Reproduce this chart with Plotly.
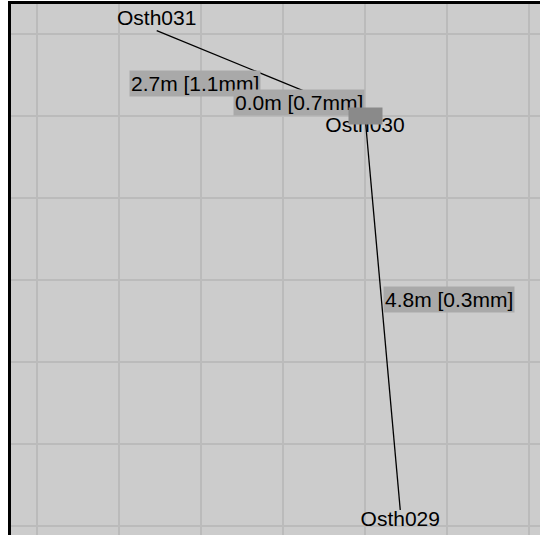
import plotly.graph_objects as go

# station coordinates (metres, local grid)
names = ["Osth031", "Osth030", "Osth029"]
east = [1.46, 4.00, 4.43]
north = [6.04, 5.00, 0.195]

# survey legs: from, to, label
leg_from = [0, 1, 1]
leg_to = [1, 1, 2]
leg_text = ["2.7m [1.1mm]", "0.0m [0.7mm]", "4.8m [0.3mm]"]

# label placement around the leg midpoint
leg_anchor = [("right", "top", 3), ("right", "bottom", 0), ("left", "bottom", 0)]
name_pos = ["top center", "bottom center", "bottom center"]

FONT = "Liberation Sans, Arial, sans-serif"

fig = go.Figure()

for a, b in zip(leg_from, leg_to):
    fig.add_trace(go.Scatter(x=[east[a], east[b]], y=[north[a], north[b]],
                             mode="lines", line=dict(color="black", width=1.3),
                             hoverinfo="skip", showlegend=False))

fig.add_trace(go.Scatter(x=east, y=north, mode="text", text=names,
                         textposition=name_pos,
                         textfont=dict(family=FONT, size=21, color="black"),
                         showlegend=False))

for (a, b), txt, (xa, ya, ys) in zip(zip(leg_from, leg_to), leg_text, leg_anchor):
    fig.add_annotation(x=(east[a] + east[b]) / 2, y=(north[a] + north[b]) / 2,
                       text=txt, showarrow=False, xanchor=xa, yanchor=ya, yshift=ys,
                       bgcolor="#a9a9a9", borderpad=1,
                       font=dict(family=FONT, size=21, color="black"))

# current station marker
fig.add_annotation(x=east[1], y=north[1], text="", showarrow=False,
                   width=33, height=16, bgcolor="#8a8a8a", borderpad=0,
                   xanchor="center", yanchor="middle")

fig.update_layout(
    width=540, height=535,
    margin=dict(l=11, r=0, t=4, b=0),
    paper_bgcolor="white", plot_bgcolor="#cccccc",
    xaxis=dict(range=[-26 / 82, -26 / 82 + 529 / 82], side="top", dtick=1, tick0=0,
               showgrid=True, gridcolor="#bbbbbb", gridwidth=2, zeroline=False,
               showticklabels=False, ticks="", showline=True, linecolor="black",
               linewidth=3),
    yaxis=dict(range=[6 + 30 / 82 - 531 / 82, 6 + 30 / 82], dtick=1, tick0=0,
               showgrid=True, gridcolor="#bbbbbb", gridwidth=2, zeroline=False,
               showticklabels=False, ticks="", showline=True, linecolor="black",
               linewidth=3),
)

fig.write_html("out.html", config={"displayModeBar": False},
               post_script="document.body.style.margin='0';")
